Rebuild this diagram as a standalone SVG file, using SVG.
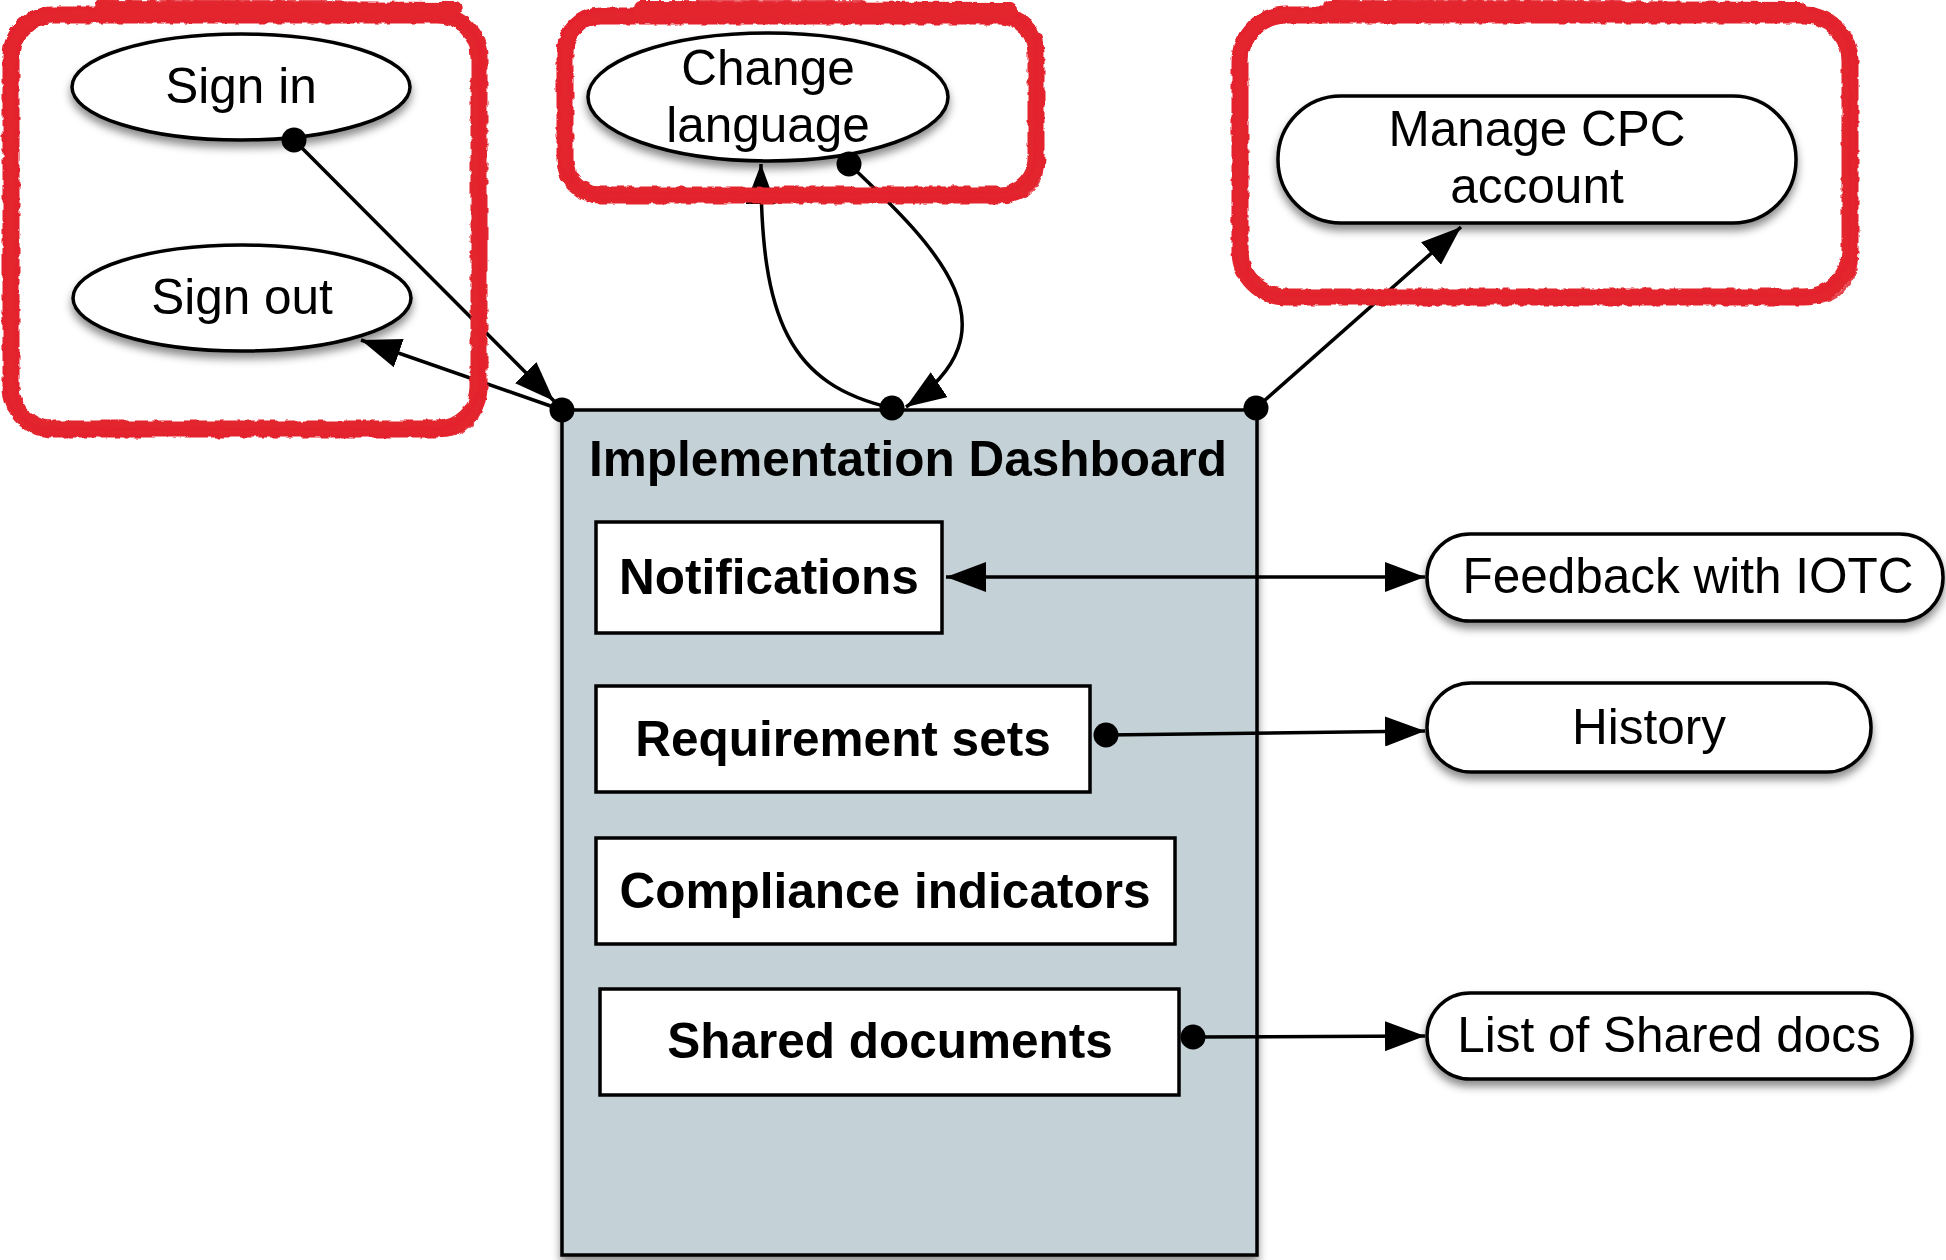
<svg xmlns="http://www.w3.org/2000/svg" width="1946" height="1260" viewBox="0 0 1946 1260">
<defs>
<style>
text{font-family:"Liberation Sans",Arial,Helvetica,sans-serif;fill:#000}
.lbl{font-size:49.5px;text-anchor:middle}
.bold{font-size:49.5px;font-weight:bold;text-anchor:middle}
.shape{fill:#fff;stroke:#000;stroke-width:3.5}
.box{fill:#fff;stroke:#000;stroke-width:3.5}
.conn{fill:none;stroke:#000;stroke-width:3.5}
.dot{fill:#000}
.red{fill:none;stroke:#E3252F;stroke-linejoin:round;stroke-linecap:round}
</style>
<filter id="shadow" x="-20%" y="-20%" width="140%" height="150%">
<feDropShadow dx="0" dy="6" stdDeviation="4" flood-color="#000" flood-opacity="0.45"/>
</filter>
<filter id="rough" x="-10%" y="-10%" width="120%" height="120%">
<feTurbulence type="fractalNoise" baseFrequency="0.12" numOctaves="2" seed="5" result="n"/>
<feDisplacementMap in="SourceGraphic" in2="n" scale="5" xChannelSelector="R" yChannelSelector="G"/>
</filter>
<marker id="arr" markerUnits="userSpaceOnUse" markerWidth="40" markerHeight="30" refX="40" refY="15" orient="auto-start-reverse" viewBox="0 0 40 30">
<path d="M0,0 L40,15 L0,30 Z" fill="#000"/>
</marker>
</defs>
<rect width="1946" height="1260" fill="#fff"/>

<g id="dashboard">
<rect x="562" y="410" width="695" height="845" fill="#C4D2D8" stroke="#000" stroke-width="3.5" filter="url(#shadow)"/>
<text x="908" y="476" class="bold">Implementation Dashboard</text>
</g>
<g id="notifications">
<rect x="596" y="522" width="346" height="111" class="box"/>
<text x="769" y="594" class="bold">Notifications</text>
</g>
<g id="requirement-sets">
<rect x="596" y="686" width="494" height="106" class="box"/>
<text x="843" y="756" class="bold">Requirement sets</text>
</g>
<g id="compliance-indicators">
<rect x="596" y="838" width="579" height="106" class="box"/>
<text x="885" y="908" class="bold">Compliance indicators</text>
</g>
<g id="shared-documents">
<rect x="600" y="989" width="579" height="106" class="box"/>
<text x="890" y="1058" class="bold">Shared documents</text>
</g>

<g id="sign-in">
<ellipse cx="241" cy="87" rx="169" ry="53" class="shape" filter="url(#shadow)"/>
<text x="241" y="103" class="lbl">Sign in</text>
</g>
<g id="sign-out">
<ellipse cx="242" cy="298" rx="169" ry="53" class="shape" filter="url(#shadow)"/>
<text x="242" y="314" class="lbl">Sign out</text>
</g>
<g id="change-language">
<ellipse cx="768" cy="97" rx="180" ry="64" class="shape" filter="url(#shadow)"/>
<text x="768" y="85" class="lbl">Change</text>
<text x="768" y="142" class="lbl">language</text>
</g>
<g id="manage-cpc">
<rect x="1278" y="96" width="518" height="127" rx="63" class="shape" filter="url(#shadow)"/>
<text x="1537" y="146" class="lbl">Manage CPC</text>
<text x="1537" y="203" class="lbl">account</text>
</g>
<g id="feedback">
<rect x="1427" y="534" width="516" height="87" rx="43" class="shape" filter="url(#shadow)"/>
<text x="1688" y="593" class="lbl">Feedback with IOTC</text>
</g>
<g id="history">
<rect x="1427" y="683" width="444" height="89" rx="44" class="shape" filter="url(#shadow)"/>
<text x="1649" y="744" class="lbl">History</text>
</g>
<g id="shared-docs-list">
<rect x="1427" y="993" width="485" height="86" rx="43" class="shape" filter="url(#shadow)"/>
<text x="1669" y="1052" class="lbl">List of Shared docs</text>
</g>

<g id="connectors">
<line x1="294" y1="140" x2="554" y2="401" class="conn" marker-end="url(#arr)"/>
<line x1="562" y1="410" x2="361" y2="340" class="conn" marker-end="url(#arr)"/>
<path d="M892,408 C790,385 760,320 761,164" class="conn" marker-end="url(#arr)"/>
<path d="M849,164 C940,250 1020,330 906,407" class="conn" marker-end="url(#arr)"/>
<line x1="1256" y1="408" x2="1461" y2="227" class="conn" marker-end="url(#arr)"/>
<line x1="946" y1="577" x2="1425" y2="577" class="conn" marker-start="url(#arr)" marker-end="url(#arr)"/>
<line x1="1106" y1="735" x2="1425" y2="731" class="conn" marker-end="url(#arr)"/>
<line x1="1193" y1="1037" x2="1425" y2="1036" class="conn" marker-end="url(#arr)"/>
<circle cx="294" cy="140" r="12.5" class="dot"/>
<circle cx="562" cy="410" r="12.5" class="dot"/>
<circle cx="892" cy="408" r="12.5" class="dot"/>
<circle cx="849" cy="164" r="12.5" class="dot"/>
<circle cx="1256" cy="408" r="12.5" class="dot"/>
<circle cx="1106" cy="735" r="12.5" class="dot"/>
<circle cx="1193" cy="1037" r="12.5" class="dot"/>
</g>

<g id="highlight-frames" filter="url(#rough)">
<rect x="11" y="15" width="468" height="414" rx="42" class="red" stroke-width="17"/>
<rect x="5" y="9" width="474" height="420" rx="46" class="red" stroke-width="3" opacity="0.85"/>
<rect x="17" y="21" width="466" height="414" rx="38" class="red" stroke-width="3" opacity="0.85"/>
<path d="M100,7 L455,9" class="red" stroke-width="14"/>
<path d="M160,2 L330,3" class="red" stroke-width="6" opacity="0.8"/>

<rect x="565" y="16" width="471" height="179" rx="36" class="red" stroke-width="17"/>
<rect x="559" y="10" width="477" height="183" rx="40" class="red" stroke-width="3" opacity="0.85"/>
<rect x="571" y="22" width="471" height="177" rx="32" class="red" stroke-width="3" opacity="0.85"/>
<path d="M640,8 L1010,9" class="red" stroke-width="14"/>
<path d="M700,2 L860,3" class="red" stroke-width="6" opacity="0.8"/>

<rect x="1240" y="15" width="610" height="282" rx="46" class="red" stroke-width="17"/>
<rect x="1234" y="9" width="616" height="286" rx="50" class="red" stroke-width="3" opacity="0.85"/>
<rect x="1246" y="21" width="610" height="282" rx="42" class="red" stroke-width="3" opacity="0.85"/>
<path d="M1330,7 L1800,9" class="red" stroke-width="14"/>
<path d="M1400,2 L1620,3" class="red" stroke-width="6" opacity="0.8"/>
</g>
</svg>
